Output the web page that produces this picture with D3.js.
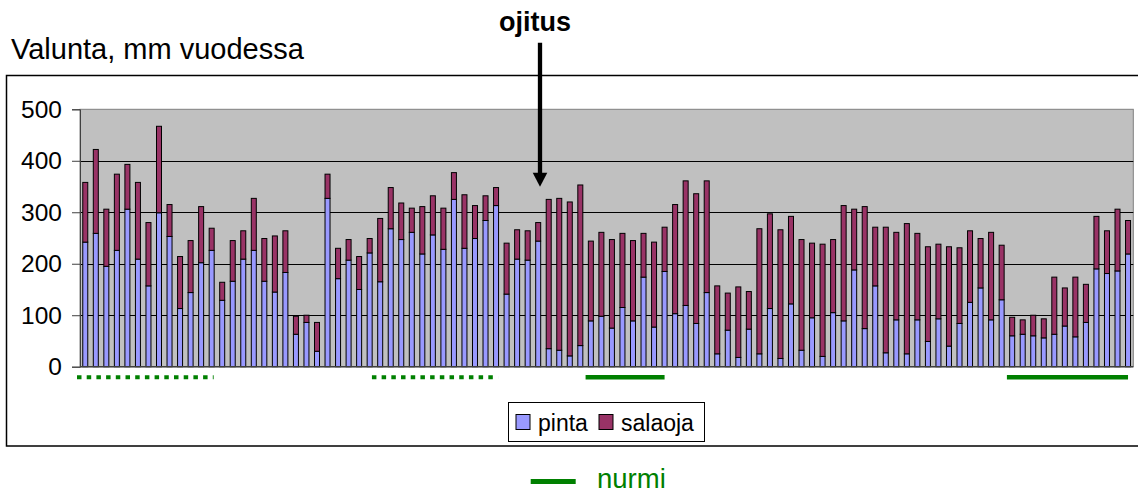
<!DOCTYPE html>
<html>
<head>
<meta charset="utf-8">
<script src="https://cdn.jsdelivr.net/npm/d3@7"></script>
<style>
    body { margin: 0; background: #fff; }
    svg { display: block; font-family: "Liberation Sans", Arial, sans-serif; }
</style>
</head>
<body>
<div id="chart"></div>
<script>
// years / observations 1..100 (no labels on the axis)
const categories = d3.range(1, 101);

// surface runoff, mm/year
const pinta = [
    242, 259, 195, 226, 306, 209, 157, 299, 253, 113,
    144, 202, 226, 129, 166, 209, 226, 166, 145, 183,
    63, 86, 30, 327, 171, 207, 150, 221, 165, 268,
    247, 261, 219, 256, 228, 325, 230, 249, 284, 313,
    141, 209, 207, 244, 35, 32, 21, 41, 89, 98,
    75, 115, 89, 174, 77, 185, 103, 119, 84, 144,
    25, 71, 18, 73, 25, 113, 16, 122, 32, 95,
    20, 105, 89, 188, 74, 157, 27, 91, 25, 91,
    49, 93, 40, 84, 125, 153, 91, 130, 60, 63,
    60, 56, 63, 79, 58, 86, 190, 181, 186, 219
];

// subsurface drain runoff, mm/year
const salaoja = [
    116, 163, 111, 148, 87, 149, 123, 168, 62, 101,
    101, 109, 43, 35, 79, 55, 101, 83, 109, 81,
    35, 14, 56, 47, 59, 40, 64, 28, 123, 80,
    71, 47, 92, 76, 80, 52, 104, 64, 48, 35,
    99, 57, 57, 36, 290, 295, 299, 312, 155, 163,
    172, 144, 156, 85, 165, 86, 212, 242, 252, 217,
    132, 72, 137, 73, 243, 184, 250, 170, 215, 145,
    218, 142, 224, 118, 237, 114, 244, 170, 253, 168,
    184, 145, 193, 147, 139, 96, 170, 106, 36, 28,
    40, 37, 111, 74, 116, 74, 102, 83, 120, 65
];

const yTicks = [0, 100, 200, 300, 400, 500];

// grassland (nurmi) periods, by category number
const nurmiPeriods = [
    { from: 1, to: 13, dotted: true },
    { from: 29, to: 40, dotted: true },
    { from: 49, to: 56, dotted: false },
    { from: 89, to: 100, dotted: false }
];

const seriesKeys = ['pinta', 'salaoja'];
const seriesColors = ['#9999ff', '#993366'];
const green = '#008000';

const width = 1138;
const height = 494;

const plot = { left: 80, right: 1133.3, top: 109.3, bottom: 366.7 };

const rows = categories.map((c, i) => ({ cat: c, pinta: pinta[i], salaoja: salaoja[i] }));

const svg = d3.select('#chart')
    .append('svg')
    .attr('width', width)
    .attr('height', height);

// outer chart frame
svg.append('rect')
    .attr('x', 6.5)
    .attr('y', 75.5)
    .attr('width', 1140)
    .attr('height', 370.5)
    .attr('fill', 'none')
    .attr('stroke', '#000')
    .attr('stroke-width', 1.5);

const x = d3.scaleBand()
    .domain(categories)
    .range([plot.left, plot.right])
    .padding(0);

const y = d3.scaleLinear()
    .domain([0, 500])
    .range([plot.bottom, plot.top]);

const color = d3.scaleOrdinal()
    .domain(seriesKeys)
    .range(seriesColors);

// plot background
svg.append('rect')
    .attr('x', plot.left)
    .attr('y', plot.top)
    .attr('width', plot.right - plot.left)
    .attr('height', plot.bottom - plot.top)
    .attr('fill', '#c0c0c0')
    .attr('stroke', '#808080')
    .attr('stroke-width', 1);

// gridlines
svg.append('g')
    .selectAll('line')
    .data(yTicks.filter(d => d > 0 && d < 500))
    .join('line')
    .attr('x1', plot.left)
    .attr('x2', plot.right)
    .attr('y1', d => Math.round(y(d)) + 0.5)
    .attr('y2', d => Math.round(y(d)) + 0.5)
    .attr('stroke', '#000')
    .attr('stroke-width', 1);

// y axis
const leftAxis = svg.append('g')
    .attr('transform', `translate(${plot.left},0)`)
    .call(d3.axisLeft(y)
        .tickValues(yTicks)
        .tickSize(8)
        .tickPadding(10));
leftAxis.select('.domain')
    .attr('stroke', '#404040');
leftAxis.selectAll('.tick line')
    .attr('stroke', '#404040');
leftAxis.selectAll('.tick text')
    .attr('font-family', '"Liberation Sans", Arial, sans-serif')
    .attr('font-size', 24.5)
    .attr('fill', '#000');

// stacked bars
const stacked = d3.stack().keys(seriesKeys)(rows);
const barW = 5;

svg.append('g')
    .selectAll('g')
    .data(stacked)
    .join('g')
    .attr('fill', d => color(d.key))
    .selectAll('rect')
    .data(d => d)
    .join('rect')
    .attr('x', d => x(d.data.cat) + (x.bandwidth() - barW) / 2)
    .attr('y', d => y(d[1]))
    .attr('width', barW)
    .attr('height', d => y(d[0]) - y(d[1]))
    .attr('stroke', '#000')
    .attr('stroke-width', 1);

// x axis baseline
svg.append('line')
    .attr('x1', plot.left)
    .attr('x2', plot.right)
    .attr('y1', plot.bottom)
    .attr('y2', plot.bottom)
    .attr('stroke', '#404040')
    .attr('stroke-width', 1.5);

// grassland markers under the axis
svg.append('g')
    .selectAll('line')
    .data(nurmiPeriods)
    .join('line')
    .attr('x1', d => x(d.from) - (d.dotted ? 3 : 0))
    .attr('x2', d => x(d.to) + x.bandwidth() / 2 + (d.dotted ? 2 : 0))
    .attr('y1', 377.3)
    .attr('y2', 377.3)
    .attr('stroke', green)
    .attr('stroke-width', d => d.dotted ? 4 : 4.5)
    .attr('stroke-dasharray', d => d.dotted ? '4.5,5.2' : null);

// legend
const legend = svg.append('g')
    .attr('transform', 'translate(508,402)');
legend.append('rect')
    .attr('x', 0.5)
    .attr('y', 0.5)
    .attr('width', 196)
    .attr('height', 39)
    .attr('fill', '#fff')
    .attr('stroke', '#000');
const legendX = [8, 91];
const legendItems = legend.selectAll('g.item')
    .data(seriesKeys)
    .join('g')
    .attr('class', 'item')
    .attr('transform', (d, i) => `translate(${legendX[i]},12.5)`);
legendItems.append('rect')
    .attr('width', 14)
    .attr('height', 15)
    .attr('fill', d => color(d))
    .attr('stroke', '#000');
legendItems.append('text')
    .attr('x', 22)
    .attr('y', 16)
    .attr('font-size', 23)
    .text(d => d);

// title
svg.append('text')
    .attr('x', 11)
    .attr('y', 58.5)
    .attr('font-size', 29)
    .text('Valunta, mm vuodessa');

// ojitus annotation
svg.append('text')
    .attr('x', 535)
    .attr('y', 30.7)
    .attr('text-anchor', 'middle')
    .attr('font-weight', 'bold')
    .attr('font-size', 27)
    .text('ojitus');
svg.append('line')
    .attr('x1', 540)
    .attr('x2', 540)
    .attr('y1', 42.7)
    .attr('y2', 176)
    .attr('stroke', '#000')
    .attr('stroke-width', 4.3);
svg.append('path')
    .attr('d', 'M532.7,172.7 L547.3,172.7 L540,186.7 Z')
    .attr('fill', '#000');

// nurmi key below the chart
svg.append('line')
    .attr('x1', 530.7)
    .attr('x2', 575.7)
    .attr('y1', 481.5)
    .attr('y2', 481.5)
    .attr('stroke', green)
    .attr('stroke-width', 5);
svg.append('text')
    .attr('x', 597)
    .attr('y', 488)
    .attr('font-size', 27.5)
    .attr('fill', green)
    .text('nurmi');
</script>
</body>
</html>
